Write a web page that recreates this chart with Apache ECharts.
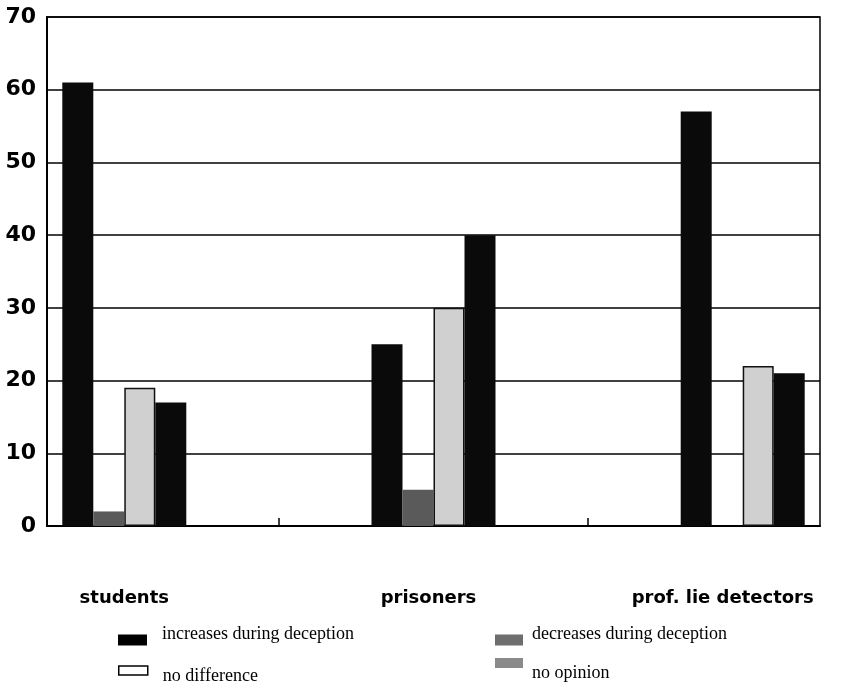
<!DOCTYPE html>
<html>
<head>
<meta charset="utf-8">
<script src="https://cdn.jsdelivr.net/npm/echarts@6/dist/echarts.min.js"></script>
<style>
html,body{margin:0;padding:0;background:#fff;}
#chart{width:849px;height:687px;}
</style>
</head>
<body>
<div id="chart"></div>
<script>
// ---- data ----
var groups = ['students', 'prisoners', 'prof. lie detectors'];
var seriesNames = ['increases during deception', 'decreases during deception', 'no difference', 'no opinion'];
var increases = [61, 25, 57];
var decreases = [2, 5, 0];
var noDifference = [19, 30, 22];
var noOpinion = [17, 40, 21];
var yTicks = [0, 10, 20, 30, 40, 50, 60, 70];

// spacer categories between the groups
function pad(arr) {
  var out = [];
  arr.forEach(function (v, i) { if (i > 0) out.push(null); out.push(v); });
  return out;
}
var labelShift = [0, 10, 40];
var cats = [];
groups.forEach(function (g, i) {
  if (i > 0) cats.push('');
  cats.push({ value: g, textStyle: { padding: [0, labelShift[i], 0, 0] } });
});

var chart = echarts.init(document.getElementById('chart'), null, { renderer: 'canvas' });

function lt(padLeft, lineHeight) {
  return { color: '#000', fontFamily: 'Liberation Serif', fontSize: 18, lineHeight: lineHeight, padding: [0, 0, 0, padLeft] };
}

var option = {
  backgroundColor: '#fff',
  animation: false,
  grid: { left: 47, right: 29, top: 17, bottom: 161, show: true, borderColor: '#000', borderWidth: 1.5, containLabel: false },
  xAxis: {
    type: 'category',
    data: cats,
    axisLine: { lineStyle: { color: '#000', width: 2 } },
    axisTick: { show: true, inside: true, length: 8, alignWithLabel: true, lineStyle: { color: '#000', width: 1.5 },
      interval: function (i) { return i % 2 === 1; } },
    axisLabel: { interval: 0, margin: 63, color: '#000', fontFamily: 'DejaVu Sans', fontWeight: 'bold', fontSize: 18 },
    splitLine: { show: false }
  },
  yAxis: {
    type: 'value',
    min: yTicks[0], max: yTicks[yTicks.length - 1], interval: 10,
    axisLine: { show: true, lineStyle: { color: '#000', width: 2 } },
    axisTick: { show: false },
    axisLabel: { margin: 11, color: '#000', fontFamily: 'DejaVu Sans', fontWeight: 'bold', fontSize: 22 },
    splitLine: { lineStyle: { color: '#000', width: 1.5 } }
  },
  legend: [
    { left: 118, top: 625, padding: 0, itemWidth: 29, itemHeight: 11, selectedMode: false, textStyle: lt(10, 12),
      formatter: function (n) { return n + '\n'; },
      data: [{ name: seriesNames[0], icon: 'rect', itemStyle: { color: '#000', borderWidth: 0 } }] },
    { left: 495, top: 625, padding: 0, itemWidth: 28, itemHeight: 11, selectedMode: false, textStyle: lt(4, 12),
      formatter: function (n) { return n + '\n'; },
      data: [{ name: seriesNames[1], icon: 'rect', itemStyle: { color: '#6e6e6e', borderWidth: 0 } }] },
    { left: 118, top: 656, padding: 0, itemWidth: 29, itemHeight: 9, selectedMode: false, textStyle: lt(10, 11),
      formatter: function (n) { return '\n' + n; },
      data: [{ name: seriesNames[2], icon: 'rect', itemStyle: { color: '#fff', borderColor: '#000', borderWidth: 1.5 } }] },
    { left: 495, top: 643, padding: 0, itemWidth: 28, itemHeight: 10, selectedMode: false, textStyle: lt(4, 20),
      formatter: function (n) { return '\n' + n; },
      data: [{ name: seriesNames[3], icon: 'rect', itemStyle: { color: '#8a8a8a', borderWidth: 0 } }] }
  ],
  series: [
    { name: seriesNames[0], type: 'bar', data: pad(increases), barWidth: 31, barGap: '0%',
      itemStyle: { color: '#0a0a0a' } },
    { name: seriesNames[1], type: 'bar', data: pad(decreases), barWidth: 31, barGap: '0%',
      itemStyle: { color: '#5a5a5a' } },
    { name: seriesNames[2], type: 'bar', data: pad(noDifference), barWidth: 31, barGap: '0%',
      itemStyle: { color: '#d0d0d0', borderColor: '#111', borderWidth: 1.5 } },
    { name: seriesNames[3], type: 'bar', data: pad(noOpinion), barWidth: 31, barGap: '0%',
      itemStyle: { color: '#0a0a0a' } }
  ]
};
chart.setOption(option);
</script>
</body>
</html>
